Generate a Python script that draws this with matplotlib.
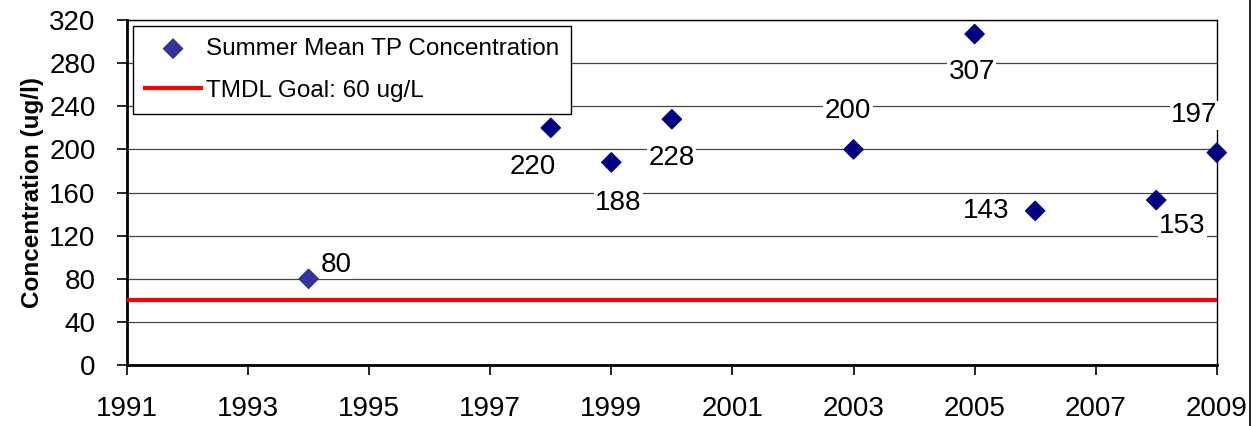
import matplotlib.pyplot as plt
from matplotlib.lines import Line2D

plt.rcParams['font.family'] = ['Liberation Sans', 'DejaVu Sans']

# summer mean total phosphorus
years = [1994, 1998, 1999, 2000, 2003, 2005, 2006, 2008, 2009]
tp_conc = [80, 220, 188, 228, 200, 307, 143, 153, 197]
tmdl_goal = 60

# where each value label sits, in points from its marker
label_offsets = [(20, 10), (-13, -28), (5, -29), (0, -28), (-4, 28),
                 (-2, -27), (-35, 0), (19, -19), (-16, 27)]

fig = plt.figure(figsize=(12.57, 4.26), dpi=100)
ax = fig.add_axes([0.101, 0.143, 0.867, 0.810])

ax.set_xlim(1991, 2009)
ax.set_ylim(0, 320)
ax.set_yticks(range(0, 321, 40))
ax.set_xticks(range(1991, 2010, 2))
ax.grid(True, axis='y', color='#444444', linewidth=0.9)
ax.set_axisbelow(True)

ax.axhline(tmdl_goal, color='#ff0000', linewidth=3, label='TMDL Goal: 60 ug/L', zorder=3)

colors = ['#333399'] + ['#000080'] * (len(years) - 1)
ax.scatter(years, tp_conc, marker='D', s=95, c=colors, zorder=5, clip_on=False,
           label='Summer Mean TP Concentration')

for x, y, off in zip(years, tp_conc, label_offsets):
    ax.annotate(str(y), (x, y), xytext=off, textcoords='offset points',
                ha='center', va='center', fontsize=20,
                bbox=dict(facecolor='white', edgecolor='none', pad=1), zorder=4)

for side in ['top', 'right']:
    ax.spines[side].set_linewidth(1.0)
for side in ['left', 'bottom']:
    ax.spines[side].set_linewidth(2.0)

ax.tick_params(axis='both', direction='out', length=7.5, width=1.2, labelsize=20)
ax.tick_params(axis='x', pad=15)
ax.tick_params(axis='y', pad=15)
ax.set_ylabel('Concentration (ug/l)', fontsize=17.5, fontweight='bold', labelpad=4)

handles, labels = ax.get_legend_handles_labels()
leg = ax.legend(handles[::-1], labels[::-1], loc='upper left',
                bbox_to_anchor=(0.0055, 0.983), borderaxespad=0, fontsize=17.5,
                frameon=True, fancybox=False, edgecolor='black', framealpha=1,
                handlelength=2.3, handletextpad=0.2, borderpad=0.5,
                labelspacing=0.8)
leg.get_frame().set_linewidth(1.0)

fig.add_artist(Line2D([0.9945, 0.9945], [0, 1], color='black', linewidth=1.2, zorder=10))

fig.savefig('out.png', dpi=100)
